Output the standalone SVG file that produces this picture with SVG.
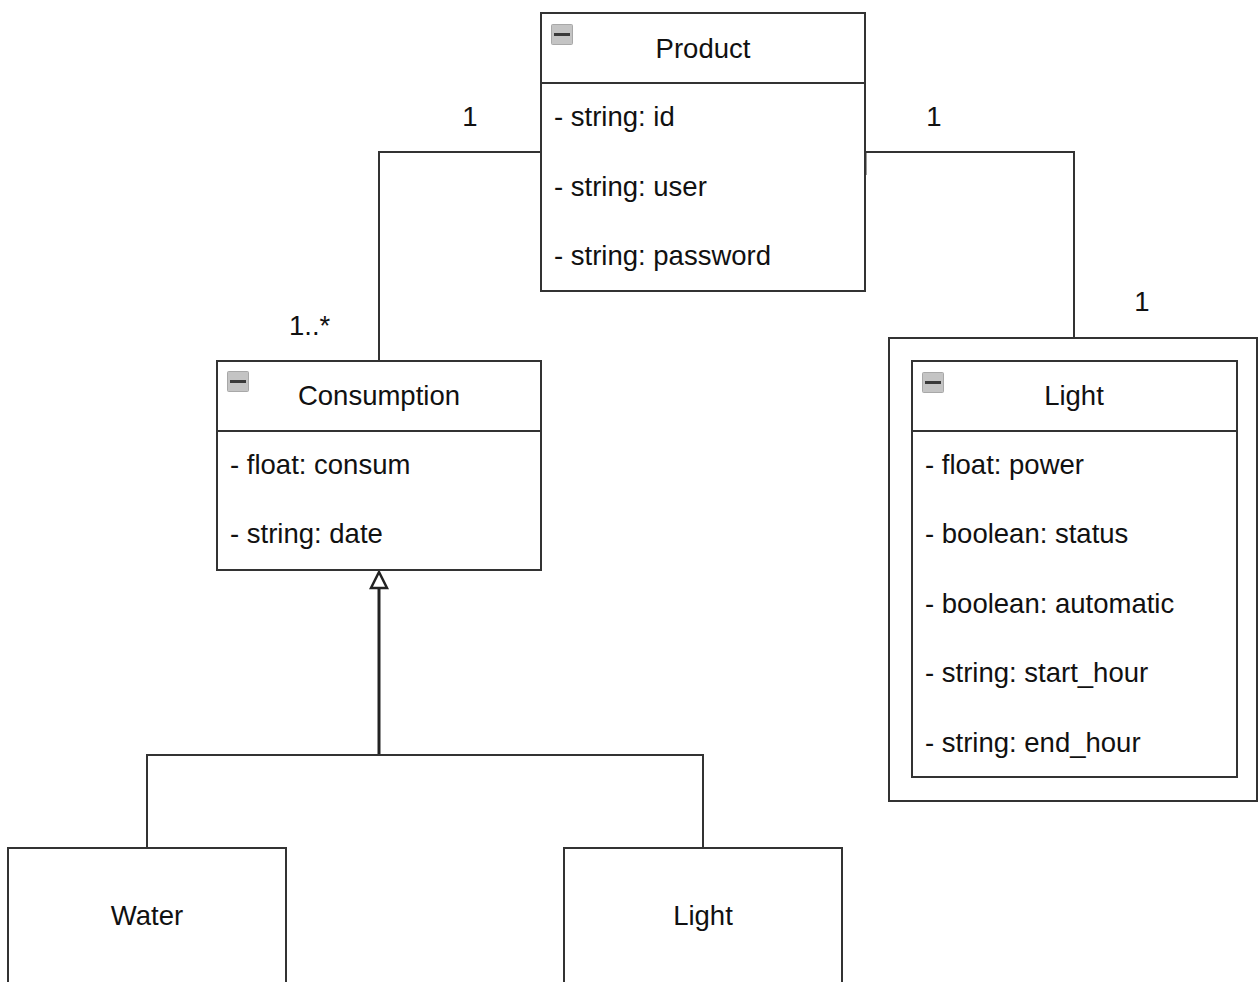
<svg xmlns="http://www.w3.org/2000/svg" width="1258" height="982" viewBox="0 0 1258 982">
<defs>
<style>
.box{fill:#fff;stroke:#333;stroke-width:2}
.sep{stroke:#333;stroke-width:2}
.edge{fill:none;stroke:#333;stroke-width:2}
text{font-family:"Liberation Sans",Arial,sans-serif;font-size:27.5px;fill:#111}
.t{text-anchor:middle}
.ico{fill:#c4c4c4;stroke:#a8a8a8;stroke-width:1}
.icl{stroke:#3a3a3a;stroke-width:3}
</style>
<g id="icon">
<rect class="ico" x="0.5" y="0.5" width="21" height="20" rx="1"/>
<line class="icl" x1="3" y1="10.5" x2="19" y2="10.5"/>
</g>
</defs>
<rect width="1258" height="982" fill="#fff"/>

<g id="connectors">
<polyline class="edge" points="541,152 379,152 379,361"/>
<polyline class="edge" points="865,152 1074,152 1074,361"/>
<line x1="865" y1="152" x2="865" y2="175" stroke="#333" stroke-width="3"/>
<line x1="379" y1="588" x2="379" y2="755" stroke="#222" stroke-width="3"/>
<polygon points="379,572 371,588 387,588" fill="#fff" stroke="#222" stroke-width="2.5"/>
<polyline class="edge" points="147,848 147,755 703,755 703,848"/>
<text x="470" y="126" class="t">1</text>
<text x="934" y="126" class="t">1</text>
<text x="1142" y="311" class="t">1</text>
<text x="289" y="335">1..*</text>
</g>

<g id="product">
<rect class="box" x="541" y="13" width="324" height="278"/>
<line class="sep" x1="541" y1="83" x2="865" y2="83"/>
<use href="#icon" x="551" y="24"/>
<text x="703" y="58" class="t">Product</text>
<text x="554" y="126">- string: id</text>
<text x="554" y="196">- string: user</text>
<text x="554" y="265">- string: password</text>
</g>

<g id="consumption">
<rect class="box" x="217" y="361" width="324" height="209"/>
<line class="sep" x1="217" y1="431" x2="541" y2="431"/>
<use href="#icon" x="227" y="371"/>
<text x="379" y="405" class="t">Consumption</text>
<text x="230" y="474">- float: consum</text>
<text x="230" y="543">- string: date</text>
</g>

<g id="light-frame">
<rect class="box" x="889" y="338" width="368" height="463"/>
</g>

<g id="light">
<rect class="box" x="912" y="361" width="325" height="416"/>
<line class="sep" x1="912" y1="431" x2="1237" y2="431"/>
<use href="#icon" x="922" y="372"/>
<text x="1074" y="405" class="t">Light</text>
<text x="925" y="474">- float: power</text>
<text x="925" y="543">- boolean: status</text>
<text x="925" y="613">- boolean: automatic</text>
<text x="925" y="682">- string: start_hour</text>
<text x="925" y="752">- string: end_hour</text>
</g>

<g id="water">
<rect class="box" x="8" y="848" width="278" height="150"/>
<text x="147" y="925" class="t">Water</text>
</g>

<g id="light-sub">
<rect class="box" x="564" y="848" width="278" height="150"/>
<text x="703" y="925" class="t">Light</text>
</g>
</svg>
